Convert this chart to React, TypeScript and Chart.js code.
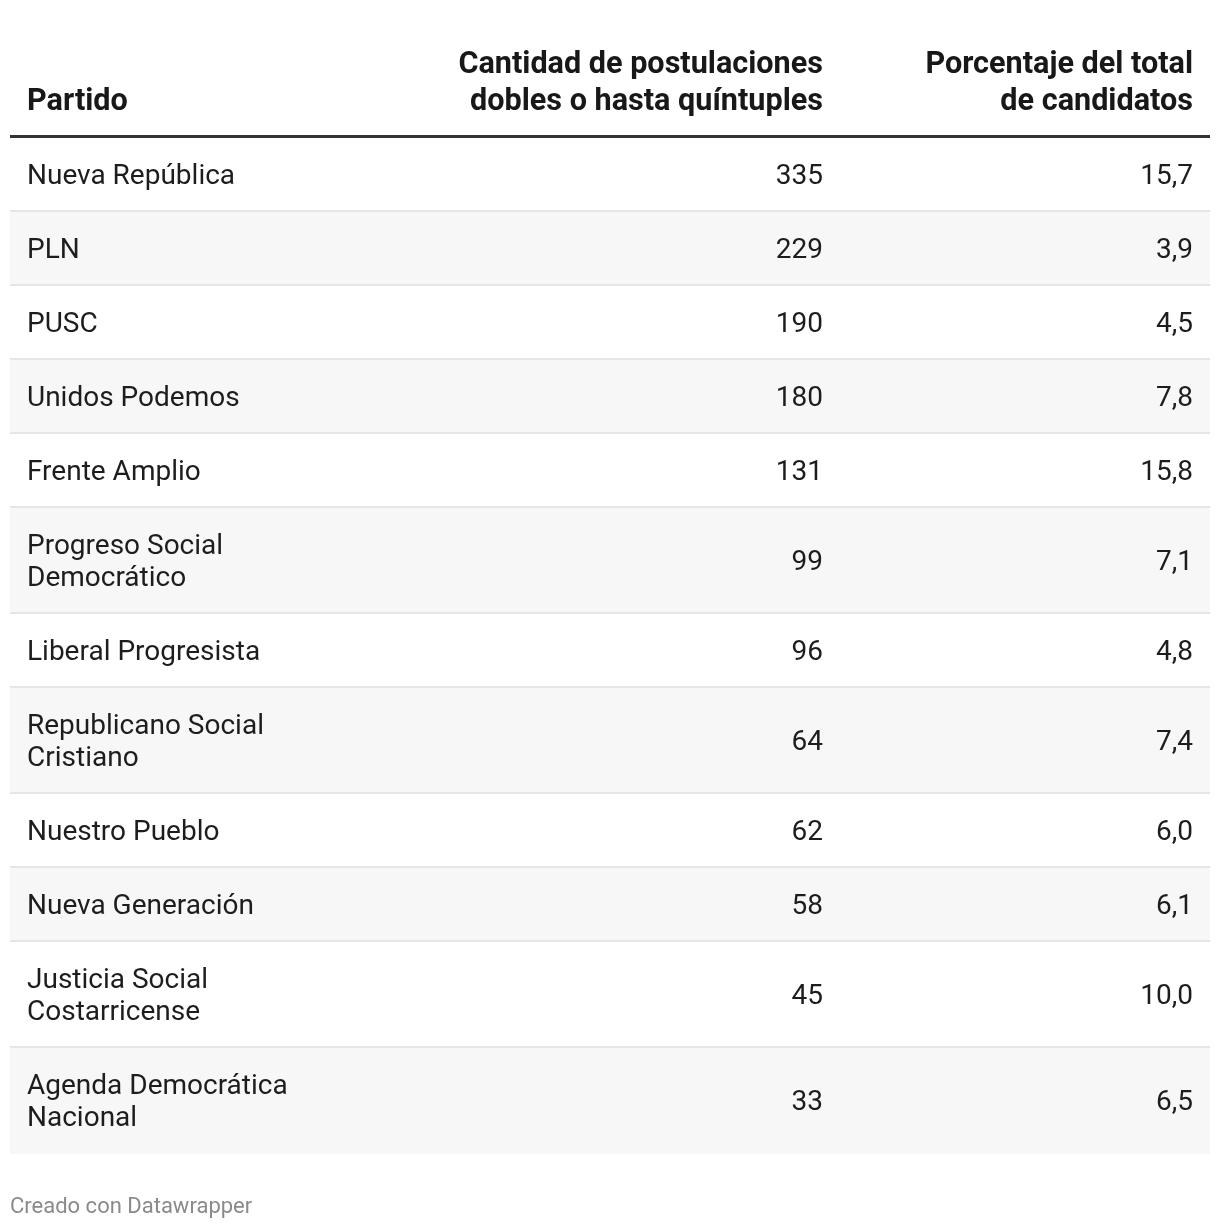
import React, { useEffect, useRef } from "react";
import { Chart, registerables } from "chart.js";

Chart.register(...registerables);

// ---------- data ----------
const parties: string[][] = [
  ["Nueva República"],
  ["PLN"],
  ["PUSC"],
  ["Unidos Podemos"],
  ["Frente Amplio"],
  ["Progreso Social", "Democrático"],
  ["Liberal Progresista"],
  ["Republicano Social", "Cristiano"],
  ["Nuestro Pueblo"],
  ["Nueva Generación"],
  ["Justicia Social", "Costarricense"],
  ["Agenda Democrática", "Nacional"],
];
const postulaciones = [335, 229, 190, 180, 131, 99, 96, 64, 62, 58, 45, 33];
const porcentaje = [15.7, 3.9, 4.5, 7.8, 15.8, 7.1, 4.8, 7.4, 6.0, 6.1, 10.0, 6.5];
const headerPartido = ["Partido"];
const headerCantidad = ["Cantidad de postulaciones", "dobles o hasta quíntuples"];
const headerPorcentaje = ["Porcentaje del total", "de candidatos"];
const footerText = "Creado con Datawrapper";

// ---------- layout / style ----------
const W = 1220;
const H = 1228;
const ROW_PAD = 42;
const LINE_H = 32;
const SEP = 2;
const FONT = "Roboto, 'Noto Sans', Arial, sans-serif";
const BODY_FONT = `400 28px ${FONT}`;
const HEAD_FONT = `700 30.6px ${FONT}`;
const FOOT_FONT = `400 22px ${FONT}`;
const TEXT_COLOR = "#1d1d1d";
const HEAD_COLOR = "#181818";
const ZEBRA = ["#ffffff", "#f7f7f7"];
const SEP_COLOR = "#e6e6e6";
const RULE_COLOR = "#333333";
const CELL_PAD = 17;
const COL2_RIGHT = 813; // offset from table left

const fmtPct = (v: number) => v.toFixed(1).replace(".", ",");

const rowHeights = parties.map((p) => ROW_PAD + LINE_H * p.length);
const totalHeight = rowHeights.reduce((a, b) => a + b, 0);

const tablePlugin = {
  id: "tableText",
  afterDatasetsDraw(chart: any) {
    const { ctx, chartArea } = chart;
    const y = chart.scales.y;
    const left = chartArea.left;
    const right = chartArea.right;
    const col1 = left + CELL_PAD;
    const col2 = left + COL2_RIGHT;
    const col3 = right - CELL_PAD;
    ctx.save();

    // header
    const top = y.getPixelForValue(0);
    ctx.fillStyle = RULE_COLOR;
    ctx.fillRect(left, top - 3, right - left, 3);
    ctx.fillStyle = HEAD_COLOR;
    ctx.font = HEAD_FONT;
    ctx.textBaseline = "alphabetic";
    const headBase = top - 28;
    const drawHead = (lines: string[], x: number, align: CanvasTextAlign) => {
      ctx.textAlign = align;
      lines.forEach((ln, i) => {
        ctx.fillText(ln, x, headBase - (lines.length - 1 - i) * 37);
      });
    };
    drawHead(headerPartido, col1, "left");
    drawHead(headerCantidad, col2, "right");
    drawHead(headerPorcentaje, col3, "right");

    // rows
    let cum = 0;
    parties.forEach((lines, i) => {
      const y0 = y.getPixelForValue(cum);
      cum += rowHeights[i];
      const y1 = y.getPixelForValue(cum);
      const last = i === parties.length - 1;
      if (!last) {
        ctx.fillStyle = SEP_COLOR;
        ctx.fillRect(left, y1 - SEP, right - left, SEP);
      }
      const center = (y0 + y1 - SEP) / 2;
      const capHalf = 9.5;
      ctx.fillStyle = TEXT_COLOR;
      ctx.font = BODY_FONT;
      ctx.textAlign = "left";
      lines.forEach((ln, k) => {
        const off = (k - (lines.length - 1) / 2) * LINE_H;
        ctx.fillText(ln, col1, center + capHalf + off);
      });
      ctx.textAlign = "right";
      ctx.fillText(String(postulaciones[i]), col2, center + capHalf);
      ctx.fillText(fmtPct(porcentaje[i]), col3, center + capHalf);
    });

    // footer
    ctx.fillStyle = "#8a8a8a";
    ctx.font = FOOT_FONT;
    ctx.textAlign = "left";
    ctx.fillText(footerText, left, y.getPixelForValue(totalHeight) + 59);
    ctx.restore();
  },
};

export default function App() {
  const ref = useRef<HTMLCanvasElement | null>(null);
  useEffect(() => {
    if (!ref.current) return;
    const chart = new Chart(ref.current, {
      type: "bar",
      data: {
        labels: ["tabla"],
        datasets: rowHeights.map((h, i) => ({
          label: parties[i].join(" "),
          data: [h],
          backgroundColor: ZEBRA[i % 2],
          borderWidth: 0,
          stack: "rows",
          barPercentage: 1,
          categoryPercentage: 1,
          inflateAmount: 0,
        })),
      },
      options: {
        animation: false,
        responsive: false,
        maintainAspectRatio: false,
        events: [],
        layout: { padding: { left: 10, right: 10, top: 138, bottom: H - 138 - totalHeight } },
        plugins: { legend: { display: false }, tooltip: { enabled: false } },
        scales: {
          x: { type: "category", display: false, stacked: true, grid: { display: false } },
          y: {
            type: "linear",
            display: false,
            stacked: true,
            reverse: true,
            min: 0,
            max: totalHeight,
            grid: { display: false },
          },
        },
      },
      plugins: [tablePlugin],
    } as any);
    return () => chart.destroy();
  }, []);
  return (
    <canvas
      ref={ref}
      width={W}
      height={H}
      style={{ position: "absolute", left: 0, top: 0, width: W, height: H }}
    />
  );
}
